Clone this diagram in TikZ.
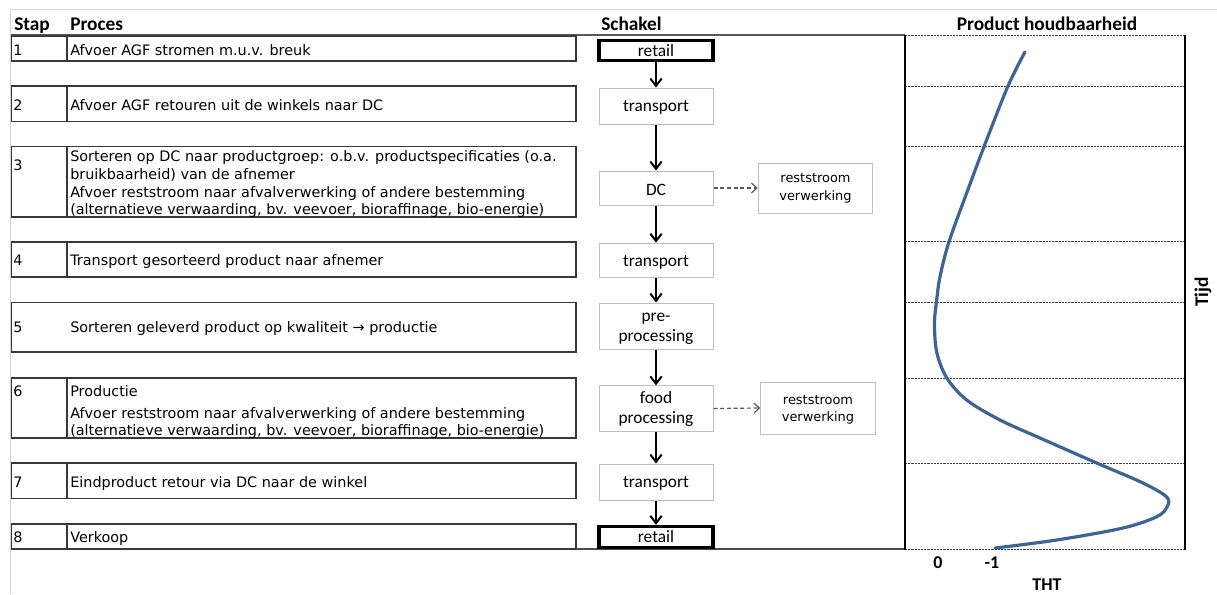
\documentclass[tikz,border=0pt]{standalone}
\usepackage{fontspec}
\setmainfont{DejaVu Sans}
\newfontfamily\calfont{Carlito}
\usetikzlibrary{arrows.meta}
\definecolor{curveblue}{RGB}{62,100,150}
\tikzset{
  rowtext/.style={anchor=base west, inner sep=0pt, font=\fontsize{10.8}{13}\selectfont},
  hdr/.style={inner sep=0pt, font=\calfont\bfseries\fontsize{14.5}{17}\selectfont},
  axlabel/.style={inner sep=0pt, anchor=base, font=\calfont\bfseries\fontsize{13.5}{16}\selectfont},
  rowbox/.style={draw=black!78, line width=0.9pt},
  linkbox/.style={draw=black!25, line width=0.75pt, minimum width=85.5pt, inner sep=0pt},
  endbox/.style={draw=black, line width=2.3pt, minimum width=85.5pt, inner sep=0pt},
  resbox/.style={draw=black!25, line width=0.75pt, minimum width=86pt, inner sep=0pt},
  linktext/.style={anchor=base, inner sep=0pt, font=\calfont\fontsize{13}{15}\selectfont},
  restext/.style={anchor=base, inner sep=0pt, font=\fontsize{9.7}{12}\selectfont},
  flow/.style={-{Straight Barb[length=5.5pt,width=8.5pt,line width=1.5pt]}, line width=1.6pt, black},
  sideflow/.style={-{Straight Barb[length=4pt,width=7.5pt,line width=0.9pt]}, line width=0.9pt, black!65, dash pattern=on 3pt off 2pt},
  gridline/.style={black!75, line width=0.75pt, dash pattern=on 1.6pt off 0.8pt},
  axisline/.style={black, line width=1.8pt}
}
\begin{document}
\begin{tikzpicture}[x=0.75pt,y=-0.75pt]
\useasboundingbox (0,0) rectangle (1217,594);
% sheet frame
\draw[black!18, line width=0.75pt] (10.5,594) -- (10.5,9.5) -- (1217,9.5);
% headers
\node[hdr, anchor=base west] (hstap) at (14,30) {Stap};
\node[hdr, anchor=base west] (hproces) at (70,30) {Proces};
\node[hdr, anchor=base west] (hschakel) at (601,30) {Schakel};
\node[hdr, anchor=base] (hprod) at (1047,30) {Product houdbaarheid};
\draw[black!65, line width=1.3pt] (10.5,35) -- (905,35);
% table rows
\foreach \t/\b in {36/61, 86/121.5, 146.5/217, 242/277, 378/438, 463/498.5, 524/549} {
  \draw[rowbox] (11.5,\t) rectangle (576,\b);
  \draw[rowbox] (67,\t) -- (67,\b);
}
\draw[rowbox] (11.5,302.5) rectangle (576,352);
\draw[black!70, line width=1pt] (576,549) -- (905,549);
% row texts
\node[rowtext] (n1) at (13,55) {1};
\node[rowtext] (t1) at (70,55) {Afvoer AGF stromen m.u.v. breuk};
\node[rowtext] (n2) at (13,110) {2};
\node[rowtext] (t2) at (70,110) {Afvoer AGF retouren uit de winkels naar DC};
\node[rowtext] (n3) at (13,170) {3};
\node[rowtext] (t3a) at (70,161.5) {Sorteren op DC naar productgroep: o.b.v. productspecificaties (o.a.};
\node[rowtext] (t3b) at (70,179) {bruikbaarheid) van de afnemer};
\node[rowtext] (t3c) at (70,197) {Afvoer reststroom naar afvalverwerking of andere bestemming};
\node[rowtext] (t3d) at (70,214.5) {(alternatieve verwaarding, bv. veevoer, bioraffinage, bio-energie)};
\node[rowtext] (n4) at (13,265.5) {4};
\node[rowtext] (t4) at (70,265.5) {Transport gesorteerd product naar afnemer};
\node[rowtext] (n5) at (13,332.5) {5};
\node[rowtext] (t5) at (70,332.5) {Sorteren geleverd product op kwaliteit → productie};
\node[rowtext] (n6) at (13,396.5) {6};
\node[rowtext] (t6a) at (70,396.5) {Productie};
\node[rowtext] (t6b) at (70,418) {Afvoer reststroom naar afvalverwerking of andere bestemming};
\node[rowtext] (t6c) at (70,435.5) {(alternatieve verwaarding, bv. veevoer, bioraffinage, bio-energie)};
\node[rowtext] (n7) at (13,487) {7};
\node[rowtext] (t7) at (70,487) {Eindproduct retour via DC naar de winkel};
\node[rowtext] (n8) at (13,542.5) {8};
\node[rowtext] (t8) at (70,542.5) {Verkoop};
% chain boxes
\node[endbox, minimum height=15.5pt] (retailA) at (656,50.5) {};
\node[linkbox, minimum height=27pt] (transA) at (656,106) {};
\node[linkbox, minimum height=25.5pt] (dc) at (656,188) {};
\node[linkbox, minimum height=26pt] (transB) at (656,260.5) {};
\node[linkbox, minimum height=34.5pt] (prep) at (656,326) {};
\node[linkbox, minimum height=34pt] (food) at (656,408.5) {};
\node[linkbox, minimum height=27pt] (transC) at (656,482) {};
\node[endbox, minimum height=16pt] (retailB) at (656,537) {};
\node[resbox, minimum height=37.5pt] (restA) at (815.5,188) {};
\node[resbox, minimum height=39pt] (restB) at (818,408) {};
% chain texts
\node[linktext] (lretailA) at (656,56) {retail};
\node[linktext] (ltransA) at (656,111.5) {transport};
\node[linktext] (ldc) at (656,195) {DC};
\node[linktext] (ltransB) at (656,266) {transport};
\node[linktext] (lprepa) at (656,321) {pre-};
\node[linktext] (lprepb) at (656,341.5) {processing};
\node[linktext] (lfooda) at (656,403) {food};
\node[linktext] (lfoodb) at (656,423) {processing};
\node[linktext] (ltransC) at (656,487.5) {transport};
\node[linktext] (lretailB) at (656,542.5) {retail};
\node[restext] (lresAa) at (815.5,182.5) {reststroom};
\node[restext] (lresAb) at (815.5,200) {verwerking};
\node[restext] (lresBa) at (818,404) {reststroom};
\node[restext] (lresBb) at (818,421.5) {verwerking};
% flow arrows
\draw[flow] (retailA.south) -- (transA.north);
\draw[flow] (transA.south) -- (dc.north);
\draw[flow] (dc.south) -- (transB.north);
\draw[flow] (transB.south) -- (prep.north);
\draw[flow] (prep.south) -- (food.north);
\draw[flow] (food.south) -- (transC.north);
\draw[flow] (transC.south) -- (retailB.north);
\draw[sideflow] (dc.east) -- (restA.west);
\draw[sideflow] (food.east) -- (restB.west);
% chart
\foreach \y in {35,86,146.5,241.5,302,378,463,549}
  \draw[gridline] (905,\y) -- (1184,\y);
\draw[axisline] (905,35) -- (905,550);
\draw[axisline] (1185,35) -- (1185,550);
\draw[curveblue, line width=2.4pt, line cap=round] plot[smooth, tension=0.55] coordinates {
  (1025,52) (1008,86) (984,146.7) (966.7,193) (949,241.7) (940,276.7) (936.7,300)
  (934.5,323) (936.7,352) (946.7,377.7) (966.7,400) (1000,420) (1040,438)
  (1096.7,463) (1143,483) (1166.7,497) (1167,507) (1156.7,516.7) (1123,528)
  (1056.7,540) (995,548)};
\node[axlabel] (l0) at (938,568) {0};
\node[axlabel] (l1) at (992,568) {-1};
\node[axlabel] (ltht) at (1047,590) {THT};
\node[hdr, rotate=90] (ltijd) at (1203,292) {Tijd};
\end{tikzpicture}
\end{document}
